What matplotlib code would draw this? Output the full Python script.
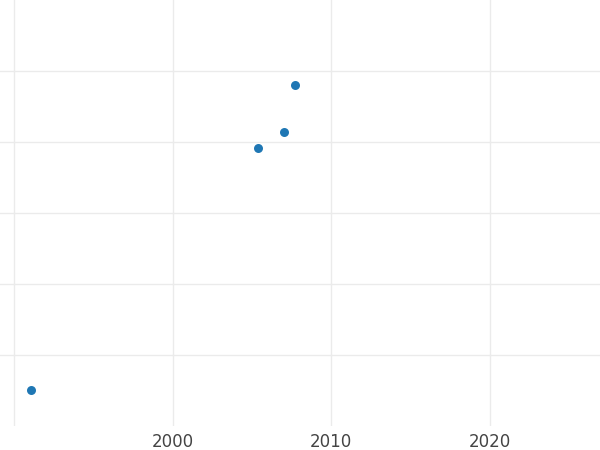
import matplotlib
matplotlib.use('Agg')
import matplotlib.pyplot as plt

# 数据点 (年份, 数值)
years = [1991.1, 2005.4, 2007.0, 2007.7]
values = [0.51, 3.92, 4.14, 4.80]

x_ticks = [1990, 2000, 2010, 2020]
x_tick_labels = ['', '2000', '2010', '2020']
y_ticks = [1, 2, 3, 4, 5]

fig = plt.figure(figsize=(6, 4.5), dpi=100)
ax = fig.add_axes([0, 24 / 450, 1, 426 / 450])

ax.scatter(years, values, s=42, color='#1f77b4', zorder=3, linewidths=0)

ax.set_xlim(1989.118, 2026.93)
ax.set_ylim(0, 6)
ax.set_xticks(x_ticks)
ax.set_xticklabels(x_tick_labels)
ax.set_yticks(y_ticks)

ax.grid(True, color='#ebebeb', linewidth=1)
ax.set_axisbelow(True)
for side in ax.spines.values():
    side.set_visible(False)
ax.tick_params(axis='both', length=0, labelsize=12, colors='#444444', pad=5)
ax.tick_params(axis='y', labelleft=False)

plt.savefig('out.png', dpi=100)
plt.close()
